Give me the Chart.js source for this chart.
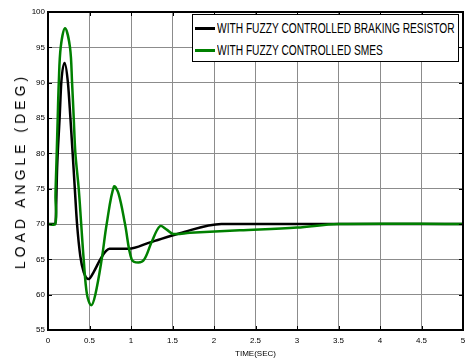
<!DOCTYPE html>
<html>
<head>
<meta charset="utf-8">
<script src="https://cdn.jsdelivr.net/npm/chart.js@4.4.1/dist/chart.umd.min.js"></script>
<style>
  body { margin: 0; background: #fff; }
  #wrap { position: relative; width: 467px; height: 359px; }
  #yTitle {
    position: absolute; left: 20px; top: 171px;
    transform: translate(-50%, -50%) rotate(-90deg);
    font: 14px "Liberation Sans", Arial, sans-serif; letter-spacing: 4px;
    white-space: nowrap; color: #000;
  }
  #legend {
    position: absolute; left: 192px; top: 14px; width: 265px; height: 46px;
    border: 1.5px solid #000; background: #fff; color: #000;
  }
  .row { position: absolute; left: 2px; height: 18px; white-space: nowrap; }
  .ln { position: absolute; left: 0; top: 8px; width: 20px; height: 2.5px; }
  .txt {
    position: absolute; left: 22px; top: 0; line-height: 18px;
    font: 15px "Liberation Sans", Arial, sans-serif;
    transform: scaleX(0.68); transform-origin: 0 50%;
  }
</style>
</head>
<body>
<div id="wrap">
  <canvas id="myChart" width="467" height="359"></canvas>
  <div id="yTitle">LOAD ANGLE (DEG)</div>
  <div id="legend">
    <div class="row" style="top:4px"><span class="ln" style="background:#000"></span><span class="txt">WITH FUZZY CONTROLLED BRAKING RESISTOR</span></div>
    <div class="row" style="top:26px"><span class="ln" style="background:#008000"></span><span class="txt">WITH FUZZY CONTROLLED SMES</span></div>
  </div>
</div>
<script>
// time (sec) and load angle (deg)
const timeBraking = [0, 0.09, 0.11, 0.14, 0.16, 0.2, 0.24, 0.27, 0.297, 0.323, 0.35, 0.39, 0.43, 0.49, 0.55, 0.63, 0.7, 0.74, 0.97, 1.23, 1.59, 2.09, 5]
const angleBraking = [70, 70, 78, 85, 90, 92.8, 90, 85, 80, 75, 70, 65.4, 63.2, 62.2, 63.2, 65, 66.2, 66.5, 66.5, 67.4, 68.7, 70, 70]

const timeSmes = [0, 0.088, 0.09, 0.1, 0.105, 0.117, 0.13, 0.153, 0.205, 0.265, 0.29, 0.31, 0.33, 0.37, 0.4, 0.43, 0.47, 0.52, 0.57, 0.647, 0.707, 0.795, 0.85, 0.928, 1.008, 1.088, 1.16, 1.25, 1.35, 1.43, 1.51, 1.71, 2.31, 3.0, 3.5, 5]
const angleSmes = [70, 70, 74, 78, 80, 85, 90, 95, 97.7, 95, 90, 85, 80, 75, 70, 65, 60, 58.5, 60, 65, 70, 75.3, 74.3, 70, 65, 64.55, 65, 67.5, 69.7, 69.2, 68.6, 68.75, 69.1, 69.5, 70, 70]

const xTicks = [0, 0.5, 1, 1.5, 2, 2.5, 3, 3.5, 4, 4.5, 5]

const tickFont = { family: '"Liberation Sans", Arial, sans-serif', size: 8 }

const boxPlugin = {
    id: 'box',
    afterDraw(chart) {
        const a = chart.chartArea
        const ctx = chart.ctx
        ctx.save()
        // little inner tick marks, matlab style
        ctx.strokeStyle = '#000'
        ctx.lineWidth = 1
        const xs = chart.scales.x, ys = chart.scales.y
        xTicks.forEach(t => {
            const px = Math.round(xs.getPixelForValue(t)) + 0.5
            ctx.beginPath()
            ctx.moveTo(px, a.bottom); ctx.lineTo(px, a.bottom - 4)
            ctx.moveTo(px, a.top); ctx.lineTo(px, a.top + 4)
            ctx.stroke()
        })
        for (let v = 55; v <= 100; v += 5) {
            const py = Math.round(ys.getPixelForValue(v)) + 0.5
            ctx.beginPath()
            ctx.moveTo(a.left, py); ctx.lineTo(a.left + 4, py)
            ctx.moveTo(a.right, py); ctx.lineTo(a.right - 4, py)
            ctx.stroke()
        }
        ctx.lineWidth = 2
        ctx.strokeRect(a.left, a.top, a.right - a.left, a.bottom - a.top)
        ctx.restore()
    }
}

const dataChart = {
    datasets: [{
        label: 'WITH FUZZY CONTROLLED BRAKING RESISTOR',
        borderColor: '#000000',
        borderWidth: 2.5,
        order: 2,
        cubicInterpolationMode: 'monotone',
        data: timeBraking.map((t, i) => ({ x: t, y: angleBraking[i] }))
    }, {
        label: 'WITH FUZZY CONTROLLED SMES',
        borderColor: '#008000',
        borderWidth: 2.5,
        order: 1,
        tension: 0.35,
        data: timeSmes.map((t, i) => ({ x: t, y: angleSmes[i] }))
    }]
}

const config = {
    type: 'line',
    data: dataChart,
    plugins: [boxPlugin],
    options: {
        responsive: false,
        animation: false,
        layout: { padding: { top: 12, right: 4, left: 0, bottom: 0 } },
        elements: { point: { radius: 0 } },
        plugins: { legend: { display: false }, tooltip: { enabled: false } },
        scales: {
            x: {
                type: 'linear', min: 0, max: 5,
                afterBuildTicks: s => { s.ticks = xTicks.map(v => ({ value: v })) },
                afterFit: s => { s.height = 29; s.paddingLeft = 0; s.paddingRight = 0 },
                grid: { color: '#8c8c8c', drawTicks: false },
                border: { display: false },
                ticks: { font: tickFont, color: '#000', padding: 6, maxRotation: 0, callback: v => String(v) },
                title: { display: true, text: 'TIME(SEC)', font: { family: tickFont.family, size: 8 }, color: '#000', padding: { top: 2, bottom: 0 } }
            },
            y: {
                min: 55, max: 100,
                ticks: { stepSize: 5, font: tickFont, color: '#000', padding: 3 },
                afterFit: s => { s.width = 48; s.paddingTop = 0; s.paddingBottom = 0 },
                grid: { color: '#8c8c8c', drawTicks: false },
                border: { display: false }
            }
        }
    }
}

const myChart = new Chart(document.getElementById('myChart'), config)
</script>
</body>
</html>
